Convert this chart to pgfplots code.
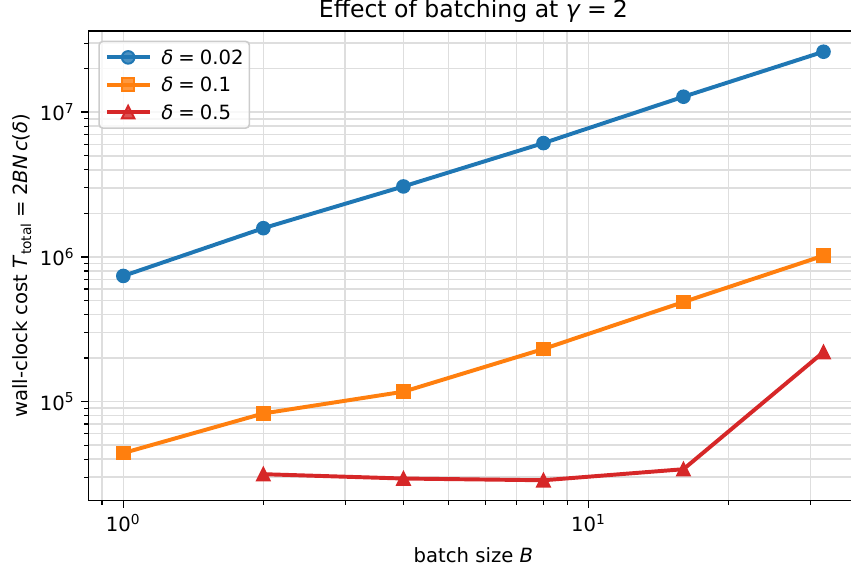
\documentclass[border=0pt]{standalone}
\usepackage{fontspec}
\setmainfont{DejaVu Sans}
\usepackage{pgfplots}
\pgfplotsset{compat=1.18}
\definecolor{tabblue}{HTML}{1F77B4}
\definecolor{taborange}{HTML}{FF7F0E}
\definecolor{tabred}{HTML}{D62728}
\definecolor{gridc}{HTML}{DEDEDE}
\definecolor{legc}{HTML}{CCCCCC}
\pgfdeclareplotmark{mpltri}{%
  \pgfpathmoveto{\pgfqpoint{0pt}{\pgfplotmarksize}}%
  \pgfpathlineto{\pgfqpoint{-\pgfplotmarksize}{-\pgfplotmarksize}}%
  \pgfpathlineto{\pgfqpoint{\pgfplotmarksize}{-\pgfplotmarksize}}%
  \pgfpathclose\pgfusepathqfillstroke}
\newcommand{\eqs}{\hspace{0.26em}=\hspace{0.26em}}
\begin{document}
\begin{tikzpicture}
\begin{axis}[
  at={(0,0)}, anchor=south west,
  scale only axis, width=391bp, height=238.5bp,
  xmode=log, ymode=log,
  xmin=0.8409, xmax=38.05, ymin=20654, ymax=3.648e7,
  xtick={1,10}, xticklabels={10\textsuperscript{0},10\textsuperscript{1}},
  minor xtick={0.9,2,3,4,5,6,7,8,9,20,30},
  ytick={1e5,1e6,1e7}, yticklabels={10\textsuperscript{5},10\textsuperscript{6},10\textsuperscript{7}},
  minor ytick={3e4,4e4,5e4,6e4,7e4,8e4,9e4,2e5,3e5,4e5,5e5,6e5,7e5,8e5,9e5,2e6,3e6,4e6,5e6,6e6,7e6,8e6,9e6,2e7,3e7},
  grid=both,
  major grid style={gridc, line width=0.8bp},
  minor grid style={gridc, line width=0.8bp},
  tick align=outside, xtick pos=left, ytick pos=left,
  major tick length=3.5bp, minor tick length=2bp,
  tick style={black, line width=0.8bp},
  minor tick style={black, line width=0.6bp},
  axis line style={black, line width=0.8bp},
  every axis title shift=0pt,
  title={Effect of batching at \textit{γ}\eqs 2},
  title style={font=\fontsize{12}{14}\selectfont, at={(axis description cs:0.5,1)}, anchor=base, yshift=6.96bp},
  xlabel={batch size \textit{B}},
  xlabel style={at={(axis description cs:0.5,0)}, anchor=base, yshift=-31.4bp},
  ylabel={wall-clock cost \textit{T}\textsubscript{total}\eqs 2\textit{BN}\,\textit{c}(\textit{δ})},
  ylabel style={at={(axis description cs:-0.0862,0.5)}, anchor=center},
  legend style={at={(axis description cs:0.0130,0.9795)}, anchor=north west,
    draw=legc, line width=0.8bp, rounded corners=2bp, fill=white, fill opacity=0.8, text opacity=1,
    inner xsep=2.9bp, inner ysep=1.2bp, row sep=0bp,
    nodes={inner xsep=0bp, inner ysep=3.3bp, text height=7.3bp, text depth=0bp},
    cells={anchor=west},
    /tikz/every odd column/.append style={column sep=5bp}},
  legend image code/.code={\draw[mark repeat=2,mark phase=2] plot coordinates {(0bp,0bp)(10.85bp,0bp)(21.7bp,0bp)};},
]
\addplot[tabblue, line width=2bp, mark=*, mark size=3.2bp, mark options={solid, line width=1bp, fill=tabblue}]
  coordinates {(1,7.39e5)(2,1.58e6)(4,3.07e6)(8,6.12e6)(16,1.28e7)(32,2.62e7)};
\addlegendentry{\textit{δ}\eqs 0.02}
\addplot[taborange, line width=2bp, mark=square*, mark size=3.2bp, mark options={solid, line width=1bp, fill=taborange}]
  coordinates {(1,4.41e4)(2,8.28e4)(4,1.17e5)(8,2.31e5)(16,4.88e5)(32,1.02e6)};
\addlegendentry{\textit{δ}\eqs 0.1}
\addplot[tabred, line width=2bp, mark=mpltri, mark size=3.2bp, mark options={solid, line width=1bp, fill=tabred}]
  coordinates {(2,3.15e4)(4,2.94e4)(8,2.86e4)(16,3.41e4)(32,2.20e5)};
\addlegendentry{\textit{δ}\eqs 0.5}
\end{axis}
\pgfresetboundingbox
\useasboundingbox (-44.83bp,-33.66bp) rectangle (387.2bp,254.2bp);
\end{tikzpicture}
\end{document}
